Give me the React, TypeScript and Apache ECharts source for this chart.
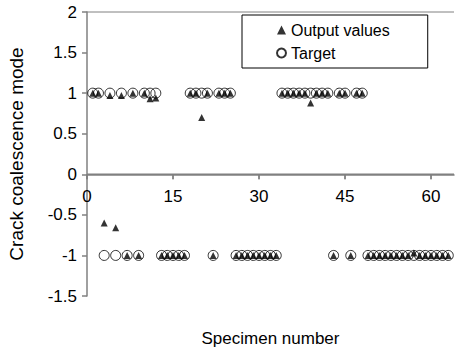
import React, { useEffect, useRef } from "react";
import * as echarts from "echarts";

const specimens = [
  1, 2, 3, 4, 5, 6, 7, 8, 9, 10, 11, 12, 13, 14, 15, 16, 17, 18, 19, 20, 21,
  22, 23, 24, 25, 26, 27, 28, 29, 30, 31, 32, 33, 34, 35, 36, 37, 38, 39, 40,
  41, 42, 43, 44, 45, 46, 47, 48, 49, 50, 51, 52, 53, 54, 55, 56, 57, 58, 59,
  60, 61, 62, 63,
];

const targetValues = [
  1, 1, -1, 1, -1, 1, -1, 1, -1, 1, 1, 1, -1, -1, -1, -1, -1, 1, 1, 1, 1,
  -1, 1, 1, 1, -1, -1, -1, -1, -1, -1, -1, -1, 1, 1, 1, 1, 1, 1, 1,
  1, 1, -1, 1, 1, -1, 1, 1, -1, -1, -1, -1, -1, -1, -1, -1, -1, -1, -1,
  -1, -1, -1, -1,
];

const outputValues = [
  1, 1, -0.6, 0.97, -0.66, 0.97, -1, 1, -1, 1, 0.93, 0.94, -1, -1, -1, -1, -1, 1, 1, 0.7, 1,
  -1, 1, 1, 1, -1, -1, -1, -1, -1, -1, -1, -1, 1, 1, 1, 1, 1, 0.88, 1,
  1, 1, -1, 1, 1, -1, 1, 1, -1, -1, -1, -1, -1, -1, -1, -1, -0.97, -1, -1,
  -1, -1, -1, -1,
];

const xTickValues = [0, 15, 30, 45, 60];
const xMin = 0;
const xMax = 64;
const yMin = -1.5;
const yMax = 2;
const yTopBorder = 2;
const yAxisCross = 0;

const GRID_TOP = 12;
const GRID_BOTTOM = 59;
const CHART_H = 355;

export default function App() {
  const ref = useRef<HTMLDivElement>(null);

  useEffect(() => {
    const chart = echarts.init(ref.current!, null, { renderer: "svg" });
    const font = "'Liberation Sans', Arial, sans-serif";
    const axisColor = "#808080";
    const gridH = CHART_H - GRID_TOP - GRID_BOTTOM;
    // shift the bottom x axis up so that it crosses the y axis at 0
    const zeroOffset = -(gridH * (yAxisCross - yMin)) / (yMax - yMin);
    chart.setOption({
      animation: false,
      backgroundColor: "#ffffff",
      textStyle: { fontFamily: font },
      grid: {
        left: 87,
        right: 3,
        top: GRID_TOP,
        bottom: GRID_BOTTOM,
        containLabel: false,
        outerBoundsMode: "none",
      },
      legend: {
        orient: "vertical",
        left: 242,
        top: 15,
        data: [
          { name: "Output values", icon: "triangle" },
          { name: "Target", icon: "circle" },
        ],
        itemWidth: 9,
        itemHeight: 9,
        itemGap: 7,
        padding: [7, 38, 7, 34],
        borderColor: "#000",
        borderWidth: 1,
        backgroundColor: "#fff",
        selectedMode: false,
        textStyle: { fontSize: 16, color: "#000", fontFamily: font },
      },
      xAxis: {
        type: "value",
        min: xMin,
        max: xMax,
        interval: 15,
        position: "bottom",
        offset: zeroOffset,
        axisLine: {
          show: true,
          onZero: false,
          lineStyle: { color: axisColor, width: 1.5 },
        },
        axisTick: {
          show: true,
          length: 5,
          lineStyle: { color: axisColor, width: 1.5 },
        },
        axisLabel: {
          color: "#000",
          fontSize: 17,
          margin: 14,
          fontFamily: font,
          showMaxLabel: false,
        },
        splitLine: { show: false },
        name: "Specimen number",
        nameLocation: "middle",
        nameGap: 156,
        nameTextStyle: { fontSize: 17, color: "#000", fontFamily: font },
      },
      yAxis: {
        type: "value",
        min: yMin,
        max: yMax,
        interval: 0.5,
        axisLine: { show: true, onZero: false, lineStyle: { color: axisColor, width: 1.5 } },
        axisTick: { show: true, length: 5, lineStyle: { color: axisColor, width: 1.5 } },
        axisLabel: { color: "#000", fontSize: 17, margin: 10, fontFamily: font },
        splitLine: { show: false },
        name: "Crack coalescence mode",
        nameLocation: "middle",
        nameGap: 61,
        nameTextStyle: { fontSize: 19, color: "#000", fontFamily: font },
      },
      series: [
        {
          name: "zeroLine",
          type: "line",
          silent: true,
          clip: false,
          symbol: "none",
          z: 1,
          lineStyle: { color: axisColor, width: 1.5 },
          data: [
            [xMin, yAxisCross],
            [xMax, yAxisCross],
          ],
        },
        {
          name: "topLine",
          type: "line",
          silent: true,
          clip: false,
          symbol: "none",
          z: 1,
          lineStyle: { color: axisColor, width: 1 },
          data: [
            [xMin, yTopBorder],
            [xMax, yTopBorder],
          ],
        },
        {
          name: "xTicks",
          type: "scatter",
          silent: true,
          clip: false,
          symbol: "rect",
          symbolSize: [1.5, 5],
          symbolOffset: [0, 2.5],
          z: 1,
          itemStyle: { color: axisColor },
          data: xTickValues.map((v) => [v, yAxisCross]),
        },
        {
          name: "Target",
          type: "scatter",
          symbol: "circle",
          symbolSize: 10,
          clip: false,
          z: 2,
          itemStyle: { color: "rgba(255,255,255,0)", borderColor: "#000", borderWidth: 1 },
          data: specimens.map((s, i) => [s, targetValues[i]]),
        },
        {
          name: "Output values",
          type: "scatter",
          symbol: "triangle",
          symbolSize: 7,
          clip: false,
          z: 3,
          itemStyle: { color: "#000" },
          data: specimens.map((s, i) => [s, outputValues[i]]),
        },
      ],
    });
    return () => chart.dispose();
  }, []);

  return (
    <div
      ref={ref}
      style={{ position: "fixed", left: 0, top: 0, width: 457, height: 355 }}
    />
  );
}
